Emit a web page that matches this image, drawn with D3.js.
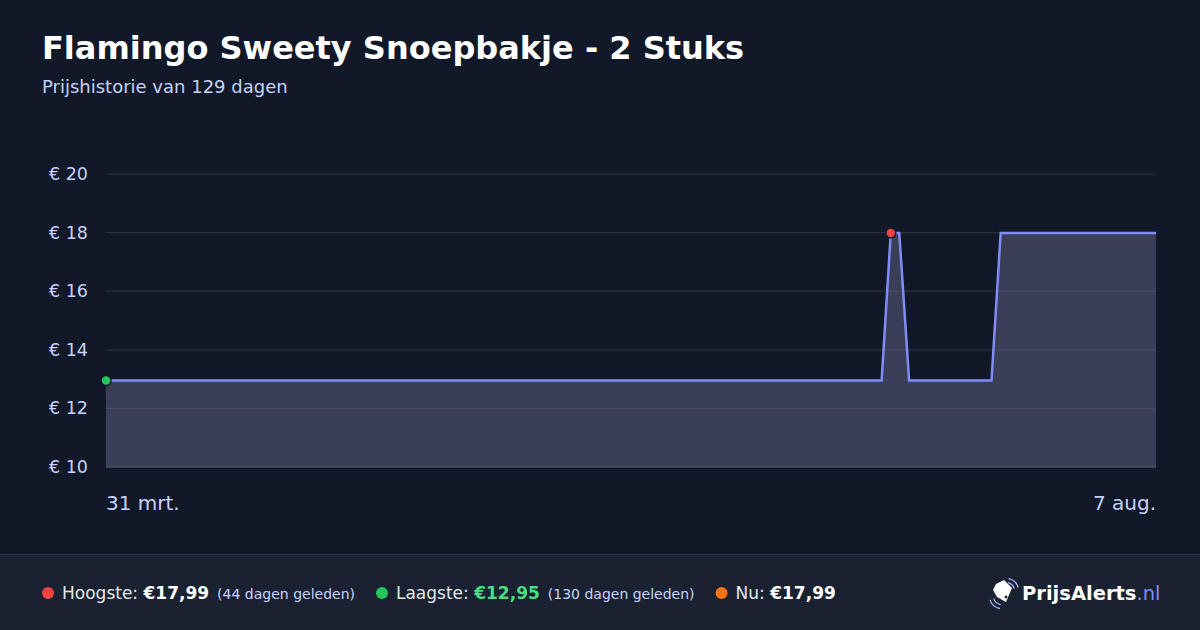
<!DOCTYPE html>
<html><head><meta charset="utf-8">
<script src="https://cdn.jsdelivr.net/npm/d3@7"></script>
<style>
html,body{margin:0;padding:0;background:#111827;}
svg{display:block;font-family:"DejaVu Sans",sans-serif;}
</style></head><body>
<svg id="c" width="1200" height="630"></svg>
<script>
const title = "Flamingo Sweety Snoepbakje - 2 Stuks";
const subtitle = "Prijshistorie van 129 dagen";
const dates = ["2025-03-31T00:00","2025-07-04T07:00","2025-07-05T10:00","2025-07-06T11:00","2025-07-07T16:00","2025-07-17T19:00","2025-07-18T22:00","2025-08-07T00:00"];
const prices = [12.95,12.95,17.99,17.99,12.95,12.95,17.99,17.99];
const yTicks = [10,12,14,16,18,20];
const xTickLabels = ["31 mrt.","7 aug."];
const legendLabels = ["Hoogste:","Laagste:","Nu:"];
const legendValues = ["€17,99","€12,95","€17,99"];
const legendNotes = ["(44 dagen geleden)","(130 dagen geleden)",""];

const svg = d3.select("#c");
const W=1200,H=630;
const m={l:106,r:1156,t:174,b:467};
const parse=d3.timeParse("%Y-%m-%dT%H:%M");
const data=dates.map((d,i)=>({date:parse(d),price:prices[i]}));
const x=d3.scaleTime().domain([data[0].date,data[data.length-1].date]).range([m.l,m.r]);
const y=d3.scaleLinear().domain([10,20]).range([m.b,m.t]);

svg.append("rect").attr("width",W).attr("height",H).attr("fill","#111827");
svg.append("text").attr("x",42).attr("y",59).attr("fill","#ffffff").attr("font-size",32).attr("font-weight","bold").text(title);
svg.append("text").attr("x",42).attr("y",93).attr("fill","#c7d2fe").attr("font-size",18).text(subtitle);

// grid
const g=svg.append("g");
g.selectAll("line.grid").data(yTicks.filter(d=>d!==10)).join("line")
 .attr("x1",m.l).attr("x2",m.r).attr("y1",d=>y(d)).attr("y2",d=>y(d))
 .attr("stroke","#2a3042").attr("stroke-width",1.2);
g.selectAll("text.yl").data(yTicks).join("text")
 .attr("x",88).attr("y",d=>y(d)+6).attr("text-anchor","end").attr("fill","#c7d2fe").attr("font-size",17.5)
 .text(d=>"€ "+d);

// area + line
const area=d3.area().x(d=>x(d.date)).y0(y(10)).y1(d=>y(d.price));
const line=d3.line().x(d=>x(d.date)).y(d=>y(d.price));
svg.append("path").datum(data).attr("d",area).attr("fill","rgba(101,100,135,0.5)");
svg.append("line").attr("x1",m.l).attr("x2",m.r).attr("y1",y(10)).attr("y2",y(10)).attr("stroke","#4b4f63").attr("stroke-width",1.5);
svg.append("path").datum(data).attr("d",line).attr("fill","none").attr("stroke","#818cf8").attr("stroke-width",2.5).attr("stroke-linejoin","miter");

// markers
const maxPt=data.find(d=>d.price===d3.max(prices));
const minPt=data[0];
svg.append("circle").attr("cx",x(minPt.date)).attr("cy",y(minPt.price)).attr("r",5).attr("fill","#22c55e").attr("stroke","#111827").attr("stroke-width",1.5);
svg.append("circle").attr("cx",x(maxPt.date)).attr("cy",y(maxPt.price)).attr("r",5).attr("fill","#ef4444").attr("stroke","#111827").attr("stroke-width",1.5);

// x labels
svg.append("text").attr("x",m.l).attr("y",510).attr("fill","#c7d2fe").attr("font-size",20).text(xTickLabels[0]);
svg.append("text").attr("x",m.r).attr("y",510).attr("text-anchor","end").attr("fill","#c7d2fe").attr("font-size",20).text(xTickLabels[1]);

// footer
svg.append("rect").attr("x",0).attr("y",554).attr("width",W).attr("height",76).attr("fill","#1a2232");
svg.append("line").attr("x1",0).attr("x2",W).attr("y1",554.5).attr("y2",554.5).attr("stroke","#283055").attr("stroke-width",1);

const colors=["#ef4444","#22c55e","#f97316"];
const valColors=["#ffffff","#4ade80","#ffffff"];
let cx=48;
const fy=599;
legendLabels.forEach((lab,i)=>{
  svg.append("circle").attr("cx",cx).attr("cy",fy-6).attr("r",6).attr("fill",colors[i]);
  const t=svg.append("text").attr("x",cx+14).attr("y",fy).attr("font-size",17).attr("fill","#e5e7eb");
  t.append("tspan").text(lab+" ");
  t.append("tspan").attr("font-weight","bold").attr("fill",valColors[i]).attr("font-size",17).text(legendValues[i]);
  if(legendNotes[i]) t.append("tspan").attr("dx",8).attr("font-size",14).attr("fill","#c7d2fe").text(legendNotes[i]);
  const bb=t.node().getBBox();
  cx=bb.x+bb.width+27;
});

// logo
const lg=svg.append("g").attr("transform","translate(1003,593)");
lg.append("path").attr("d","M-7,-9 L1,-13 L9,-5 L3,9 L-6,4 L-10,-3 Z").attr("fill","#ffffff");
lg.append("circle").attr("cx",3).attr("cy",4).attr("r",1.4).attr("fill","#1a2232");
[8,12].forEach(r=>{
  lg.append("path").attr("d",d3.arc()({innerRadius:r,outerRadius:r+1.3,startAngle:0.2,endAngle:1.3})).attr("fill","#a5b4fc").attr("transform","translate(3,-2)");
  lg.append("path").attr("d",d3.arc()({innerRadius:r,outerRadius:r+1.3,startAngle:3.3,endAngle:4.4})).attr("fill","#a5b4fc").attr("transform","translate(-1,3)");
});
const lt=svg.append("text").attr("x",1022).attr("y",600).attr("font-size",19.5);
lt.append("tspan").attr("font-weight","bold").attr("fill","#ffffff").text("PrijsAlerts");
lt.append("tspan").attr("fill","#818cf8").text(".nl");
</script>
</body></html>
